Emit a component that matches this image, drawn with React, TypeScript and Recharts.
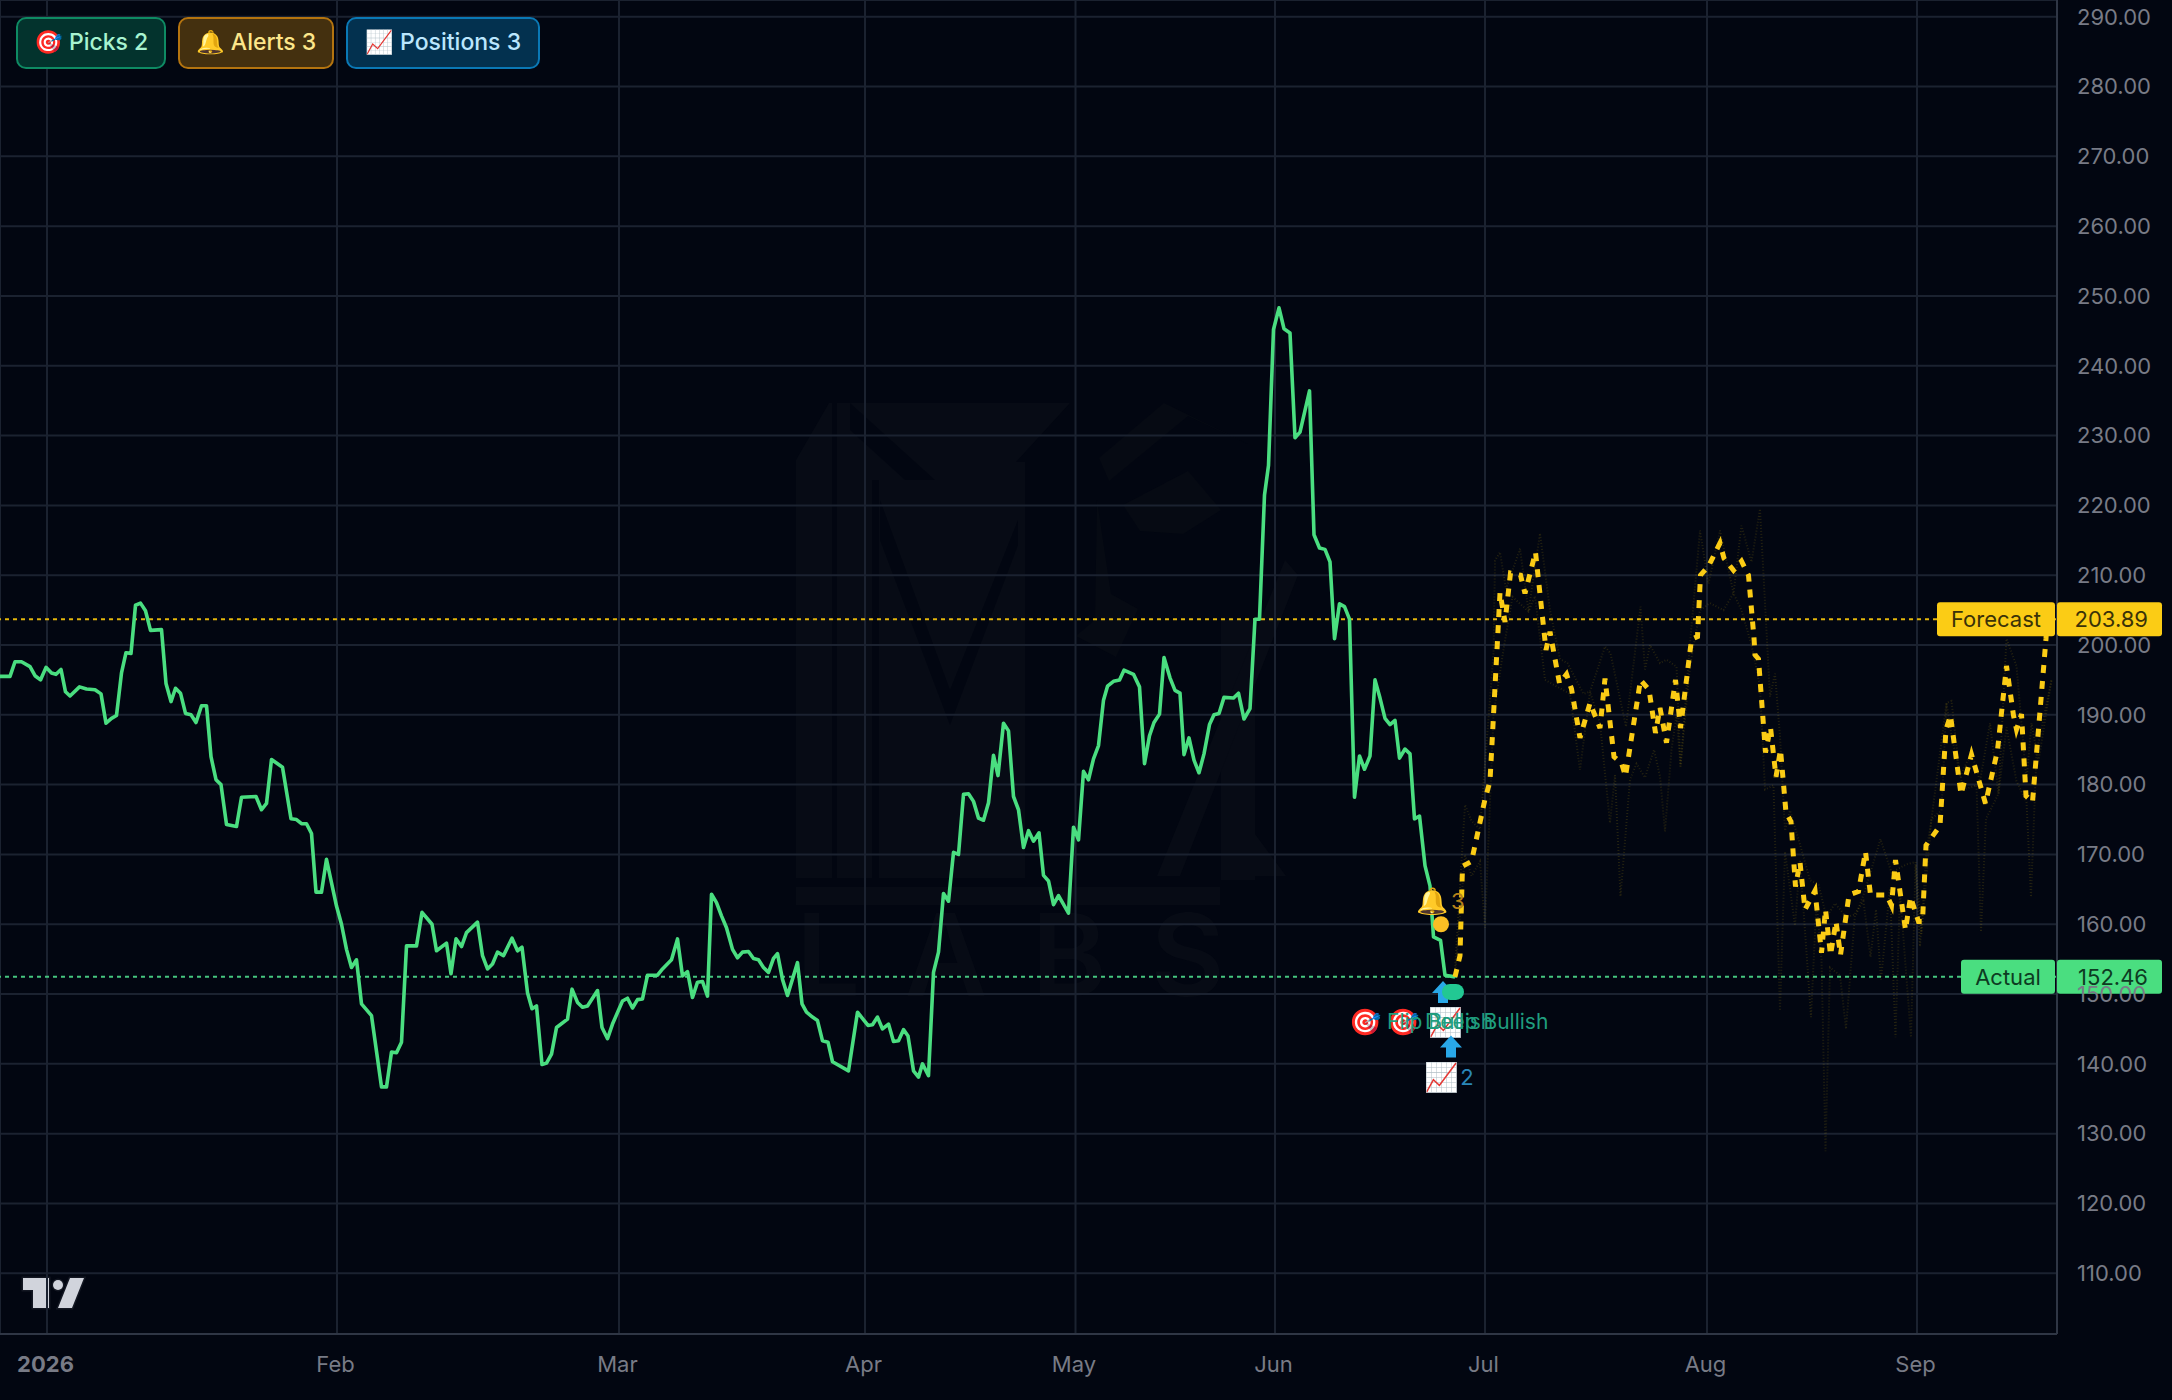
import {
  ComposedChart,
  Line,
  XAxis,
  YAxis,
  CartesianGrid,
  ReferenceLine,
  ReferenceDot,
} from "recharts";

// bar numbers along the time axis, prices on the right scale
const actualBars = [
  -1, 2, 3, 4.3, 6, 7, 8.1, 9.2, 10.3, 11.2, 12.2, 13.1, 14, 15.9, 17.3, 19, 20.2, 21.2, 22.3, 23.3, 24.3, 25.2, 26.2,
  27.1, 28.1, 29.1, 30.1, 32.3, 33.2, 34.2, 35.1, 36.1, 37.1, 38.2, 39.2, 40.3, 41.3, 42.2, 43.2, 44.2, 45.3, 47.3,
  48.3, 51.2, 52.3, 53.3, 54.3, 56.5, 58.2, 59.3, 60.3, 61.3, 62.3, 63.2, 64.3, 65.3, 67.3, 68.3, 69.3, 70.3, 71.3,
  72.3, 74.3, 76.3, 77.3, 78.3, 79.3, 80.3, 81.3, 83.3, 84.4, 86.4, 87.3, 89.3, 90.2, 91.2, 92.3, 93.3, 95.5, 96.5,
  97.5, 98.5, 99.5, 100.7, 102.4, 103.5, 104.4, 105.5, 106.4, 107.3, 108.4, 109.3, 110.3, 111.3, 113.5, 114.4, 115.5,
  116.5, 117.5, 119.5, 120.4, 121.5, 122.5, 124.5, 125.5, 126.5, 127.5, 128.5, 129.5, 131.5, 132.5, 134.3, 135.5,
  136.5, 137.5, 138.5, 139.5, 140.5, 141.5, 142.3, 143.3, 144.3, 145.3, 146.5, 147.5, 148.5, 149.7, 150.7, 151.7,
  152.7, 153.7, 154.7, 155.5, 156.5, 157.5, 159.5, 160.4, 161.3, 162.5, 163.5, 164.5, 165.6, 166.5, 169.7, 171.5,
  173.6, 174.5, 175.5, 176.5, 177.7, 178.7, 179.7, 180.7, 181.6, 182.7, 183.7, 184.5, 185.7, 186.7, 187.7, 188.7,
  189.7, 190.7, 191.7, 192.7, 193.7, 194.7, 195.7, 196.7, 197.7, 198.7, 199.6, 200.7, 201.7, 202.7, 203.7, 204.7,
  205.7, 206.7, 207.8, 208.7, 209.7, 210.7, 211.7, 213.7, 214.7, 215.7, 216.7, 217.7, 218.7, 219.7, 220.7, 221.5,
  222.7, 223.9, 224.8, 226.7, 227.9, 228.9, 229.9, 230.8, 231.9, 232.8, 234, 235, 236, 236.8, 237.8, 238.8, 239.8,
  240.8, 241.9, 242.8, 243.8, 244.8, 246.7, 247.7, 248.8, 250, 251, 251.9, 252.9, 253.7, 254.7, 255.8, 256.8, 258,
  259, 260, 261.9, 262.8, 263.9, 265, 266, 266.9, 267.9, 268.9, 269.9, 270.9, 271.9, 272.9, 274, 275, 276, 277, 278,
  279, 279.9, 281, 282, 282.9, 283.9, 285, 286, 286.7, 288.1, 289, 291,
];
const actualValues = [
  195.5, 195.5, 197.6, 197.6, 196.9, 195.6, 195, 196.8, 196, 195.8, 196.5, 193.3, 192.7, 194, 193.7, 193.6, 193, 188.8,
  189.5, 189.9, 196, 198.9, 198.8, 205.7, 206, 204.9, 202.1, 202.2, 194.5, 191.9, 193.8, 193.1, 190.2, 190, 188.9,
  191.3, 191.3, 184, 180.7, 180, 174.3, 174, 178.2, 178.3, 176.4, 177.3, 183.6, 182.5, 175.1, 175, 174.4, 174.4, 173,
  164.6, 164.6, 169.3, 162.6, 160, 156.4, 153.8, 154.9, 148.6, 146.9, 136.7, 136.7, 141.7, 141.6, 143.1, 156.9, 156.9,
  161.7, 160, 156.2, 157.3, 152.9, 157.9, 156.8, 158.8, 160.3, 155.5, 153.6, 154.3, 156, 155.5, 158, 156.2, 156.7,
  150.2, 147.9, 148.3, 139.9, 140.1, 141.4, 145.2, 146.4, 150.7, 148.8, 148.1, 148.3, 150.5, 145.2, 143.6, 145.7, 149,
  149.4, 148, 149.2, 149.3, 152.7, 152.7, 153.6, 154.9, 157.9, 152.6, 153.2, 149.5, 151.7, 151.8, 149.7, 164.3, 163.1,
  161.2, 159.5, 156.4, 155.2, 156, 156.1, 155.1, 154.9, 153.8, 153.1, 155.1, 155.8, 152.1, 149.8, 154.5, 148.6, 147.4,
  146.7, 146.2, 143.3, 143.1, 140.3, 139, 147.4, 145.5, 145.6, 146.7, 145, 145.7, 143.2, 143.3, 144.9, 144, 139, 138.1,
  140, 138.3, 153.1, 156, 164.4, 163.3, 170.3, 170, 178.6, 178.7, 177.6, 175.2, 174.9, 177.4, 184.2, 181.3, 188.8,
  187.7, 178.3, 176.4, 171, 173.4, 171.9, 173.1, 167, 166.2, 162.8, 164.1, 161.6, 173.9, 172.1, 181.9, 180.7, 183.7,
  185.6, 192.1, 194.1, 194.8, 195, 196.4, 195.8, 194, 183, 187, 188.9, 190.1, 198.2, 195.3, 193.5, 193.1, 184.3, 186.7,
  183.5, 181.7, 184.4, 188.6, 190, 190.2, 192.5, 192.4, 193.1, 189.4, 190.9, 203.7, 203.7, 221.5, 225.7, 245.2, 248.3,
  245.3, 244.7, 229.7, 230.5, 236.4, 215.8, 213.9, 213.7, 211.9, 200.9, 205.9, 205.5, 203.7, 178.2, 184.1, 182.2, 184.1,
  195, 192.4, 189.5, 188.6, 189.2, 183.8, 185.1, 184.4, 175.1, 175.5, 168.4, 165.5, 158.2, 157.7, 152.7, 152.46,
];

const forecastBars = [
  291, 292, 292.5, 294.3, 297, 298, 299, 299.5, 300, 301, 302.1, 304.1, 305, 307.1, 309.2, 310, 311.9, 313.3, 314.3,
  316, 318, 320, 321, 322.8, 324.3, 325.1, 328.1, 329.8, 331.1, 332, 333.3, 335.1, 336.1, 338.3, 339.5, 340.1, 341.7,
  344, 344.8, 346.7, 348.3, 349.7, 350.8, 351, 351.7, 353.1, 354.1, 355.2, 356.1, 357.2, 358.2, 359.1, 360, 361, 363,
  364.3, 365.1, 366.1, 367.2, 368.1, 369.8, 371.7, 373.1, 374.1, 375, 377.3, 378.3, 379.1, 381.1, 382.1, 383.7, 384.5,
  385.2, 388, 389.2, 390.1, 392.2, 394.3, 397.1, 399.5, 401.3, 402.7, 403.3, 404.3, 405.2, 406.5, 409.2, 409.4,
];
const forecastValues = [
  152.46, 155.5, 168.3, 169, 177.9, 180.5, 194, 200.7, 207.5, 203.3, 210.3, 210, 207.4, 213.3, 199.3, 201.9, 194.5,
  195.8, 193.7, 186.7, 191.7, 188.1, 195.2, 184, 183.1, 181.2, 195, 193.6, 187.4, 191, 186, 195, 188.1, 200.8, 201.2,
  210, 211.3, 214.6, 212.4, 210.7, 212, 210, 201, 198.6, 198, 184.6, 188.2, 181.1, 185, 176, 174.7, 165.4, 168.9,
  162.1, 164.8, 155.9, 162.1, 155.6, 160.4, 155.6, 164.2, 164.7, 170.4, 164.2, 164.2, 164.2, 162.7, 169.2, 159.2,
  163.9, 160.4, 160.4, 171.3, 174.1, 187.9, 189.9, 178.6, 184.3, 177.3, 184.9, 197, 189.9, 187.9, 190.1, 178.4, 177.5,
  200.9, 203.89,
];

const upperBandBars = [
  291, 293, 294.3, 296, 298.7, 299, 300, 301.2, 304, 305.7, 308, 310, 312, 313.5, 316.7, 318, 321, 322.1, 325.2, 328.1,
  329, 330, 332, 333.3, 335.3, 336.1, 338, 340, 341.7, 344, 346.7, 348.3, 350.3, 352, 354, 355, 356, 357, 358, 359.7,
  362, 363.7, 365.3, 367, 369.3, 371.3, 373, 376.1, 378.3, 381.3, 383.1, 384.3, 386.3, 389.3, 390.3, 392, 394.3, 396,
  398, 399.7, 401.3, 403.3, 405.3, 406.3, 407.7, 410.3,
];
const upperBandValues = [
  153.6, 177.1, 174.8, 173.6, 198.8, 212.1, 213.3, 208, 213.8, 204.8, 216, 205, 198, 197.4, 193, 193.3, 199.8, 198.8,
  188.3, 205.5, 196.5, 200, 197.4, 197.9, 196.9, 182.6, 200.2, 216.4, 208.8, 216.4, 207.4, 217.1, 211.9, 219.5, 192.6,
  195.9, 187, 173.4, 176.3, 172.2, 166.3, 165.7, 161, 163, 161, 161.5, 164.8, 172.2, 167.4, 168.6, 168.9, 158.6, 175.1,
  191.7, 192, 181.1, 184.6, 180.5, 188.8, 178.7, 200.9, 197, 180.5, 188.8, 183.4, 195,
];

const lowerBandBars = [
  291, 293, 294.3, 296, 297, 298.7, 300.8, 302.5, 305.7, 307, 309, 312, 314, 316, 318, 320, 322, 323, 324.1, 326, 327.3,
  329, 330.8, 332, 333, 334.3, 335.3, 336.1, 338, 340, 342, 344.7, 346.7, 348.3, 350.3, 352, 353, 354.7, 356, 357, 359,
  360, 362.2, 363.3, 364.3, 365.1, 366, 368, 369.2, 371, 372.7, 374.1, 375.2, 376.2, 378, 379.1, 380, 382.2, 383.1,
  384, 385.3, 386.3, 388.3, 389.3, 390.3, 392.7, 395.3, 396.2, 397.2, 399.7, 401.3, 403.3, 405.3, 406.2, 407.3, 410.3,
];
const lowerBandValues = [
  152.5, 170, 166.9, 169, 159.5, 190, 199.8, 206.9, 204.8, 207, 195, 193.8, 193, 182.1, 193.3, 188.8, 174.5, 181.4, 164,
  180.7, 183, 181, 185, 181.2, 173.3, 185, 190, 182.6, 197, 205, 206, 205, 207.4, 205, 200, 194.1, 179.3, 179.9, 147.6,
  170.4, 159.8, 169.2, 146.7, 163.3, 155, 127.5, 153.8, 152.7, 145, 161.5, 163.3, 155.3, 162.1, 152.1, 165.1, 143.8,
  164.5, 143.8, 168.6, 156.8, 170.4, 175.1, 176.3, 191.7, 187, 179.3, 179.9, 158.9, 175.1, 178.7, 188.2, 180.5, 177.5,
  163.9, 184.6, 195,
];

const monthBars = [9.4, 67.4, 123.8, 173, 215.1, 255, 297, 341.4, 383.4];
const monthLabels = ["2026", "Feb", "Mar", "Apr", "May", "Jun", "Jul", "Aug", "Sep"];
const priceTicks = [110, 120, 130, 140, 150, 160, 170, 180, 190, 200, 210, 220, 230, 240, 250, 260, 270, 280, 290];

// the forecast tag prints its price, its dotted level sits where the picture has it
const forecastPrice = 203.89;
const forecastLevel = 203.7;
const actualPrice = 152.46;
const lastBar = 411.4;

const pills = [
  { icon: "🎯", text: "Picks 2", left: 16, width: 150, bg: "#03332d", border: "#0e8a63", color: "#a7f3d0" },
  { icon: "🔔", text: "Alerts 3", left: 178, width: 156, bg: "#44300f", border: "#b4740f", color: "#fde68a" },
  { icon: "📈", text: "Positions 3", left: 346, width: 194, bg: "#03314f", border: "#0a78b5", color: "#bae6fd" },
];

const FONT = "Inter, Roboto, sans-serif";
const rows = (bars: number[], values: number[]) => bars.map((bar, i) => ({ bar, value: values[i] }));

function MonthTick({ x, y, payload }: any) {
  const label = monthLabels[monthBars.indexOf(payload.value)];
  return (
    <text
      x={x - 1.5}
      y={y + 30}
      textAnchor="middle"
      fontFamily={FONT}
      fontSize={22}
      fontWeight={label === "2026" ? 700 : 400}
      fill="#787b86"
    >
      {label}
    </text>
  );
}

function PriceTag({ cx, cy, name, value, bg, ink, labelWidth }: any) {
  return (
    <g fontFamily={FONT} fontSize={22} fill={ink}>
      <rect x={cx - 2 - labelWidth} y={cy - 17} width={labelWidth} height={34} rx={3} fill={bg} />
      <text x={cx - 2 - labelWidth / 2} y={cy + 8} textAnchor="middle">
        {name}
      </text>
      <rect x={cx} y={cy - 17} width={105} height={34} rx={3} fill={bg} />
      <text x={cx + 91} y={cy + 8} textAnchor="end">
        {value.toFixed(2)}
      </text>
    </g>
  );
}

function Glyph({ cx, cy, text, size, color, anchor, dx, opacity }: any) {
  return (
    <text
      x={cx + (dx || 0)}
      y={cy}
      dominantBaseline="central"
      textAnchor={anchor || "middle"}
      fontFamily={FONT}
      fontSize={size}
      fill={color}
      opacity={opacity}
    >
      {text}
    </text>
  );
}

function ArrowUp({ cx, cy, color }: any) {
  return (
    <path
      d={`M${cx} ${cy - 11}L${cx + 11} ${cy + 1}H${cx + 5}V${cy + 11}H${cx - 5}V${cy + 1}H${cx - 11}Z`}
      fill={color}
    />
  );
}

function Blob({ cx, cy, color }: any) {
  return <rect x={cx - 11} y={cy - 8} width={22} height={16} rx={8} fill={color} />;
}

function Watermark() {
  return (
    <svg width={2172} height={1400} style={{ position: "absolute", left: 0, top: 0 }}>
      <g fill="#070b15">
        <path d="M796 460L829 403H1070L1016 462H1025V878H796Z" />
        <path d="M796 887H1220V905H796Z" />
        <path d="M1221 620H1255V880H1221Z" />
        <path d="M1157 876L1285 560L1298 575L1180 876Z" />
        <path d="M1255 834L1286 876H1255Z" />
      </g>
      <g fill="#020611">
        <path d="M832 403H837V878H832Z" />
        <path d="M872 480H879V878H872Z" />
        <path d="M880 500L950 690L1018 520V545L950 725L880 540Z" />
        <path d="M850 403L935 480H905L850 430Z" />
      </g>
      <g fill="#060a13">
        <path d="M1099 458L1164 403L1250 445L1188 416L1109 481Z" />
        <path d="M1123 505L1188 471L1221 510L1183 534L1140 531Z" />
        <path d="M1097 500L1111 594L1138 609L1116 657L1076 636L1095 620Z" />
      </g>
      <text x={796} y={996} fontFamily={FONT} fontSize={114} fontWeight={600} letterSpacing={44} fill="#070b15">
        LABS
      </text>
      <g fill="#d1d4dc" stroke="#131722" strokeWidth={3} paintOrder="stroke">
        <path d="M23 1278H49V1308H33V1290H23Z" />
        <circle cx={58} cy={1285} r={5} />
        <path d="M70 1278H84L72 1308H58Z" />
      </g>
    </svg>
  );
}

export default function App() {
  return (
    <div style={{ position: "absolute", left: 0, top: 0, width: 2172, height: 1400, background: "#020611", overflow: "hidden" }}>
      <Watermark />
      <div style={{ position: "absolute", left: 0, top: 0 }}>
        <ComposedChart width={2172} height={1400} margin={{ top: 0, right: 0, bottom: 0, left: 0 }}>
          <CartesianGrid stroke="#1b2230" strokeWidth={2} />
          <XAxis
            type="number"
            dataKey="bar"
            domain={[0, lastBar]}
            allowDataOverflow
            ticks={monthBars}
            tick={<MonthTick />}
            tickLine={false}
            axisLine={{ stroke: "#2f3645", strokeWidth: 2 }}
            height={66}
            interval={0}
            allowDuplicatedCategory={false}
          />
          <YAxis
            type="number"
            orientation="right"
            dataKey="value"
            domain={[101.3, 292.4]}
            ticks={priceTicks}
            tickFormatter={(v: number) => v.toFixed(2)}
            tick={{ fontSize: 22, fontFamily: FONT, fill: "#787b86" }}
            tickLine={false}
            tickSize={0}
            tickMargin={20}
            axisLine={{ stroke: "#2f3645", strokeWidth: 2 }}
            width={115}
            interval={0}
          />
          <ReferenceLine y={forecastLevel} stroke="#e2b50c" strokeWidth={2} strokeDasharray="4 4" />
          <ReferenceLine y={actualPrice} stroke="#45c57f" strokeWidth={2} strokeDasharray="4 4" />
          <Line
            data={rows(upperBandBars, upperBandValues)}
            dataKey="value"
            type="linear"
            stroke="#fbcc15"
            strokeOpacity={0.14}
            strokeWidth={2}
            strokeDasharray="1 2"
            dot={false}
            isAnimationActive={false}
          />
          <Line
            data={rows(lowerBandBars, lowerBandValues)}
            dataKey="value"
            type="linear"
            stroke="#fbcc15"
            strokeOpacity={0.14}
            strokeWidth={2}
            strokeDasharray="1 2"
            dot={false}
            isAnimationActive={false}
          />
          <Line
            data={rows(actualBars, actualValues)}
            dataKey="value"
            type="linear"
            stroke="#4ade80"
            strokeWidth={3.6}
            strokeLinejoin="round"
            dot={false}
            isAnimationActive={false}
          />
          <Line
            data={rows(forecastBars, forecastValues)}
            dataKey="value"
            type="linear"
            stroke="#fbcc15"
            strokeWidth={5}
            strokeDasharray="8 8"
            dot={false}
            isAnimationActive={false}
          />
          <ReferenceDot x={286.4} y={163.4} shape={<Glyph text="🔔" size={26} />} />
          <ReferenceDot x={286.4} y={163.4} shape={<Glyph text="3" size={22} color="#b8831a" anchor="start" dx={19} />} />
          <ReferenceDot x={288.2} y={160} r={8} fill="#fbbf24" stroke="none" />
          <ReferenceDot x={288.6} y={150.3} shape={<ArrowUp color="#29a8e8" />} />
          <ReferenceDot x={290.6} y={150.3} shape={<Blob color="#22c893" />} />
          <ReferenceDot x={273} y={146} shape={<Glyph text="🎯" size={26} />} />
          <ReferenceDot x={280.6} y={146} shape={<Glyph text="🎯" size={26} />} />
          <ReferenceDot x={289} y={146} shape={<Glyph text="📈" size={28} />} />
          <ReferenceDot x={277.4} y={146} shape={<Glyph text="Flip Bullish" size={21} color="#1f9d7e" anchor="start" />} />
          <ReferenceDot x={285} y={146} shape={<Glyph text="Deep Bullish" size={21} color="#1f9d7e" anchor="start" />} />
          <ReferenceDot x={290.2} y={142.5} shape={<ArrowUp color="#29a8e8" />} />
          <ReferenceDot x={288.2} y={138.1} shape={<Glyph text="📈" size={28} />} />
          <ReferenceDot x={293.4} y={138.1} shape={<Glyph text="2" size={22} color="#2a86b8" />} />
          <ReferenceDot
            x={lastBar}
            y={forecastLevel}
            ifOverflow="visible"
            shape={<PriceTag name="Forecast" value={forecastPrice} bg="#fbcc15" ink="#3a3208" labelWidth={118} />}
          />
          <ReferenceDot
            x={lastBar}
            y={actualPrice}
            ifOverflow="visible"
            shape={<PriceTag name="Actual" value={actualPrice} bg="#4ade80" ink="#0d3b22" labelWidth={94} />}
          />
        </ComposedChart>
      </div>
      {pills.map((p) => (
        <div
          key={p.text}
          style={{
            position: "absolute",
            left: p.left,
            top: 17,
            width: p.width,
            height: 52,
            boxSizing: "border-box",
            background: p.bg,
            border: `2px solid ${p.border}`,
            borderRadius: 10,
            color: p.color,
            fontFamily: FONT,
            fontSize: 23,
            fontWeight: 500,
            lineHeight: "46px",
            textAlign: "center",
            whiteSpace: "nowrap",
          }}
        >
          {p.icon} {p.text}
        </div>
      ))}
    </div>
  );
}
